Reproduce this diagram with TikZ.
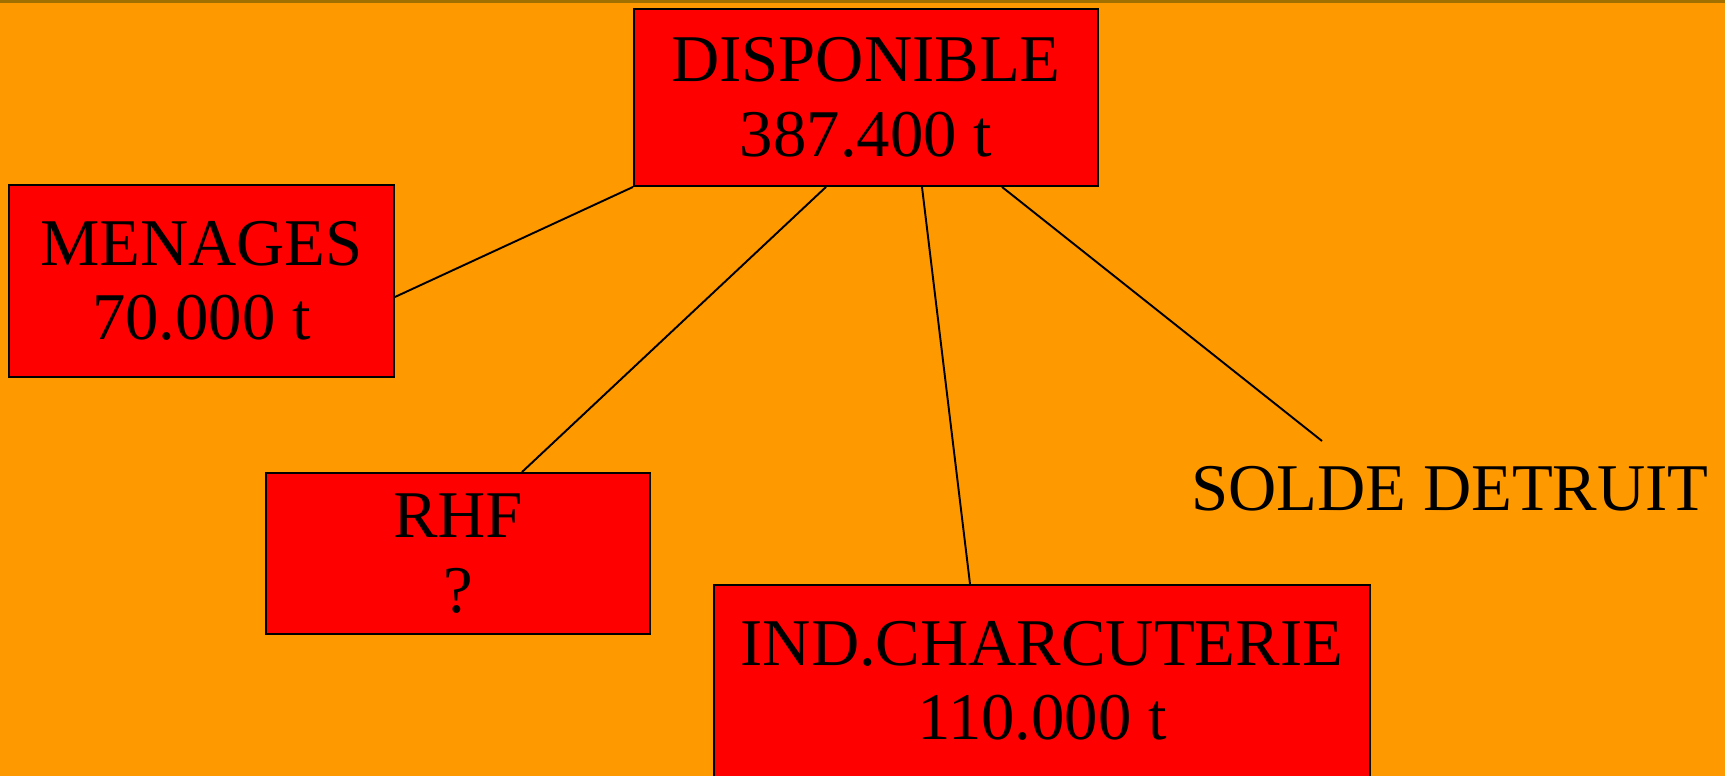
\documentclass[tikz,border=0pt]{standalone}
\usepackage{fontspec}
\setmainfont{Liberation Serif}
\usetikzlibrary{positioning}

\definecolor{fond}{RGB}{255,153,0}
\definecolor{bord}{RGB}{160,112,0}
\definecolor{rouge}{RGB}{255,0,0}

\begin{document}
\begin{tikzpicture}[x=0.02cm, y=-0.02cm,
        boite/.style={rectangle, draw, fill=rouge, line width=1.1pt, align=center, inner sep=0pt, font=\fontsize{38}{42.4}\selectfont},
        lien/.style={line width=1.1pt}]
        \fill[fond] (0, 0) rectangle (1725, 776);
        \fill[bord] (0, 0) rectangle (1725, 3);
        \useasboundingbox (0, 0) rectangle (1725, 776);

        \node[boite, minimum width=9.28cm, minimum height=3.54cm] (disponible) at (866, 97.5) {DISPONIBLE\\387.400 t};
        \node[boite, minimum width=7.7cm, minimum height=3.84cm] (menages) at (201.5, 281) {MENAGES\\70.000 t};
        \node[boite, minimum width=7.68cm, minimum height=3.22cm] (rhf) at (458, 553.5) {RHF\\?};
        \node[boite, minimum width=13.12cm, minimum height=3.84cm] (charcuterie) at (1042, 681) {IND.CHARCUTERIE\\110.000 t};
        \node[anchor=base, inner sep=0pt, font=\fontsize{38}{42.4}\selectfont] (solde) at (1450, 511) {SOLDE DETRUIT};
        \coordinate (soldehaut) at (1322, 441);

        \draw[lien] (disponible.south west) -- ([yshift=-0.32cm]menages.east);
        \draw[lien] ([xshift=-0.8cm]disponible.south) -- ([xshift=1.28cm]rhf.north);
        \draw[lien] ([xshift=1.12cm]disponible.south) -- ([xshift=-1.44cm]charcuterie.north);
        \draw[lien] ([xshift=2.72cm]disponible.south) -- (soldehaut);
    \end{tikzpicture}
\end{document}
